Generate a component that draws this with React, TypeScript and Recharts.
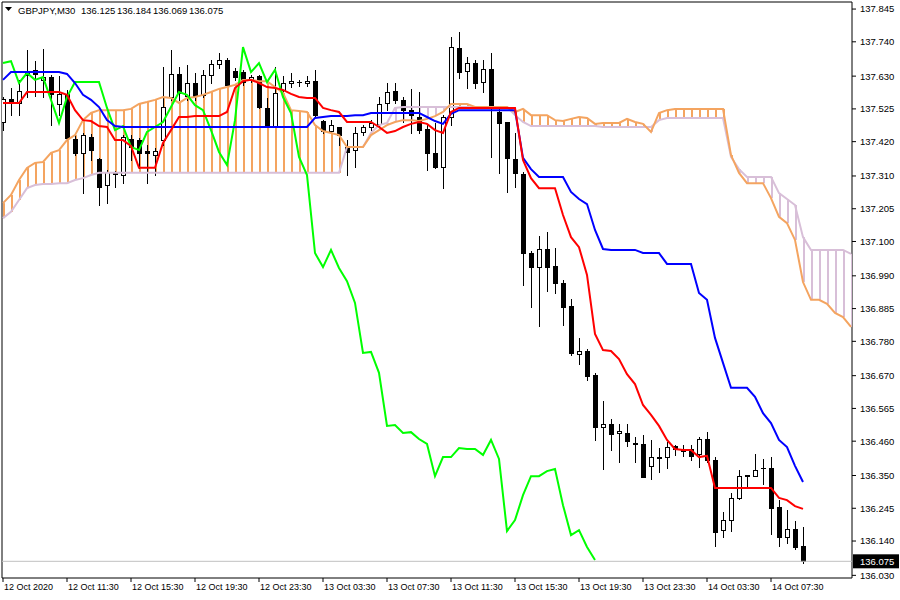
import React from 'react';
import { ComposedChart, Line, Bar, XAxis, YAxis, ReferenceLine, ReferenceArea } from 'recharts';

const openP = [137.483,137.557,137.544,137.646,137.650,137.618,137.627,137.541,137.573,137.429,
137.384,137.435,137.364,137.281,137.320,137.313,137.429,137.425,137.390,137.377,
137.425,137.563,137.637,137.566,137.608,137.570,137.634,137.669,137.682,137.646,
137.643,137.618,137.630,137.528,137.467,137.586,137.608,137.611,137.608,137.614,
137.486,137.454,137.467,137.403,137.393,137.451,137.467,137.477,137.544,137.582,
137.554,137.521,137.499,137.461,137.384,137.339,137.499,137.720,137.646,137.672,
137.611,137.653,137.515,137.483,137.364,137.316,137.063,137.018,137.076,137.021,
136.967,136.893,136.739,136.749,136.672,136.505,136.515,136.486,136.486,136.454,
136.451,136.381,136.406,136.409,136.445,136.435,136.435,136.419,136.467,136.400,
136.175,136.207,136.278,136.348,136.348,136.374,136.374,136.249,136.153,136.179,
136.125];
const highP = [137.563,137.592,137.618,137.714,137.678,137.717,137.634,137.630,137.586,137.448,
137.448,137.445,137.368,137.329,137.326,137.441,137.441,137.432,137.409,137.400,
137.659,137.714,137.659,137.666,137.640,137.650,137.682,137.704,137.688,137.656,
137.650,137.634,137.634,137.560,137.659,137.630,137.640,137.618,137.630,137.650,
137.489,137.489,137.467,137.425,137.467,137.473,137.489,137.563,137.608,137.608,
137.563,137.589,137.579,137.473,137.480,137.505,137.755,137.771,137.691,137.682,
137.682,137.704,137.531,137.483,137.448,137.323,137.070,137.118,137.130,137.079,
136.977,136.916,136.791,136.755,136.679,136.589,136.531,136.515,136.515,136.473,
136.480,136.464,136.438,136.457,136.448,136.448,136.448,136.473,136.489,136.409,
136.233,136.294,136.368,136.352,136.419,136.403,136.409,136.271,136.239,136.204,
136.184];
const lowP = [137.457,137.505,137.505,137.563,137.566,137.563,137.473,137.505,137.425,137.377,
137.255,137.361,137.217,137.223,137.275,137.287,137.361,137.336,137.287,137.313,
137.409,137.554,137.554,137.554,137.554,137.563,137.608,137.656,137.598,137.618,
137.602,137.611,137.528,137.470,137.467,137.563,137.595,137.598,137.598,137.502,
137.448,137.448,137.409,137.313,137.339,137.441,137.457,137.467,137.521,137.544,
137.483,137.448,137.448,137.329,137.336,137.271,137.473,137.624,137.592,137.592,
137.579,137.371,137.320,137.259,137.275,136.961,136.890,136.829,136.941,136.935,
136.832,136.736,136.707,136.656,136.464,136.371,136.432,136.393,136.445,136.393,
136.345,136.339,136.361,136.374,136.416,136.413,136.400,136.377,136.393,136.124,
136.153,136.172,136.275,136.310,136.348,136.323,136.163,136.124,136.134,136.114,
136.069];
const closeP = [137.557,137.547,137.582,137.634,137.637,137.627,137.573,137.573,137.432,137.384,
137.441,137.393,137.275,137.323,137.316,137.435,137.403,137.384,137.384,137.390,
137.531,137.637,137.576,137.608,137.566,137.634,137.669,137.682,137.602,137.627,
137.611,137.627,137.531,137.473,137.576,137.608,137.614,137.612,137.614,137.505,
137.454,137.473,137.441,137.387,137.448,137.467,137.480,137.541,137.579,137.554,
137.521,137.505,137.457,137.384,137.339,137.499,137.723,137.643,137.672,137.608,
137.653,137.534,137.480,137.368,137.320,137.063,137.018,137.076,137.018,136.967,
136.890,136.743,136.749,136.669,136.505,136.515,136.483,136.493,136.461,136.451,
136.345,136.409,136.409,136.441,136.435,136.429,136.413,136.467,136.400,136.169,
136.207,136.278,136.348,136.352,136.368,136.375,136.246,136.153,136.179,136.121,
136.075];

const tenkanSen = [137.544,137.544,137.544,137.579,137.579,137.579,137.579,137.579,137.570,137.521,
137.489,137.486,137.470,137.467,137.425,137.425,137.406,137.336,137.336,137.336,
137.416,137.457,137.499,137.499,137.502,137.502,137.502,137.502,137.515,137.592,
137.614,137.618,137.608,137.595,137.592,137.586,137.573,137.563,137.560,137.560,
137.528,137.521,137.515,137.483,137.483,137.483,137.483,137.467,137.448,137.454,
137.467,137.477,137.483,137.477,137.457,137.448,137.515,137.528,137.528,137.528,
137.528,137.528,137.528,137.528,137.528,137.361,137.303,137.271,137.271,137.271,
137.185,137.114,137.082,136.993,136.804,136.752,136.749,136.723,136.675,136.643,
136.576,136.544,136.509,136.464,136.435,136.432,136.432,136.409,136.413,136.310,
136.310,136.310,136.310,136.310,136.310,136.310,136.310,136.278,136.271,136.252,
136.243];
const kijunSen = [137.618,137.643,137.643,137.643,137.643,137.643,137.643,137.643,137.637,137.608,
137.570,137.554,137.531,137.489,137.470,137.467,137.467,137.467,137.467,137.467,
137.467,137.467,137.467,137.467,137.467,137.467,137.467,137.467,137.467,137.467,
137.467,137.467,137.467,137.467,137.467,137.467,137.467,137.467,137.467,137.496,
137.499,137.502,137.502,137.502,137.505,137.505,137.512,137.512,137.512,137.512,
137.512,137.512,137.512,137.499,137.486,137.477,137.509,137.521,137.521,137.521,
137.521,137.521,137.521,137.521,137.521,137.368,137.332,137.307,137.307,137.307,
137.307,137.259,137.236,137.220,137.137,137.076,137.073,137.073,137.073,137.073,
137.063,137.063,137.063,137.028,137.028,137.028,137.028,136.935,136.913,136.791,
136.711,136.631,136.631,136.631,136.602,136.550,136.518,136.464,136.441,136.381,
136.329];
const chikouSpan = [137.672,137.678,137.608,137.640,137.618,137.627,137.554,137.480,137.563,137.611,
137.611,137.611,137.611,137.528,137.457,137.470,137.403,137.393,137.451,137.467,
137.483,137.531,137.579,137.570,137.537,137.521,137.457,137.387,137.345,137.489,
137.723,137.643,137.672,137.611,137.650,137.563,137.512,137.371,137.313,137.063,
137.018,137.073,137.015,136.973,136.903,136.743,136.746,136.679,136.509,136.512,
136.486,136.489,136.467,136.451,136.348,136.409,136.409,136.438,136.435,136.435,
136.416,136.464,136.403,136.172,136.207,136.287,136.348,136.348,136.364,136.371,
136.255,136.159,136.175,136.121,136.079];
const senkouA = [137.223,137.249,137.297,137.336,137.352,137.355,137.384,137.393,137.425,137.441,
137.489,137.512,137.521,137.521,137.521,137.521,137.525,137.541,137.547,137.554,
137.563,137.560,137.544,137.560,137.563,137.570,137.579,137.589,137.595,137.602,
137.618,137.618,137.614,137.614,137.595,137.576,137.521,137.518,137.515,137.473,
137.454,137.448,137.441,137.403,137.403,137.403,137.441,137.457,137.473,137.483,
137.489,137.489,137.486,137.493,137.502,137.515,137.541,137.541,137.541,137.531,
137.531,137.531,137.531,137.531,137.515,137.525,137.505,137.505,137.505,137.489,
137.486,137.493,137.499,137.496,137.477,137.480,137.480,137.480,137.493,137.483,
137.477,137.451,137.512,137.521,137.525,137.525,137.525,137.525,137.525,137.525,
137.525,137.377,137.320,137.287,137.287,137.287,137.239,137.179,137.159,137.105,
136.970,136.913,136.913,136.900,136.871,136.858,136.826];
const senkouB = [137.175,137.195,137.233,137.271,137.281,137.284,137.284,137.287,137.287,137.297,
137.303,137.313,137.320,137.320,137.320,137.320,137.320,137.320,137.320,137.320,
137.320,137.320,137.320,137.320,137.320,137.320,137.320,137.320,137.320,137.320,
137.320,137.320,137.320,137.320,137.320,137.320,137.320,137.320,137.320,137.320,
137.320,137.320,137.320,137.403,137.403,137.403,137.448,137.473,137.480,137.528,
137.531,137.531,137.531,137.531,137.531,137.531,137.531,137.531,137.531,137.531,
137.531,137.531,137.531,137.531,137.505,137.483,137.470,137.470,137.470,137.470,
137.470,137.470,137.470,137.470,137.470,137.467,137.467,137.467,137.467,137.467,
137.467,137.467,137.489,137.496,137.496,137.496,137.496,137.496,137.496,137.496,
137.496,137.371,137.332,137.307,137.307,137.307,137.307,137.255,137.236,137.217,
137.114,137.073,137.073,137.073,137.073,137.073,137.060];

const timeLabels = ['12 Oct 2020','12 Oct 11:30','12 Oct 15:30','12 Oct 19:30','12 Oct 23:30','13 Oct 03:30','13 Oct 07:30','13 Oct 11:30','13 Oct 15:30','13 Oct 19:30','13 Oct 23:30','14 Oct 03:30','14 Oct 07:30'];
const timeTickBars = [0,8,16,24,32,40,48,56,64,72,80,88,96];
const priceTicks = [137.845,137.740,137.630,137.525,137.420,137.310,137.205,137.100,136.990,136.885,136.780,136.670,136.565,136.460,136.350,136.245,136.140,136.030];
const symbolTitle = 'GBPJPY,M30';
const ohlcTitle = ['136.125','136.184','136.069','136.075'];
const lastPrice = 136.075;

const Y_MIN = 136.0215;
const Y_MAX = 137.8676;
const X_MIN = -0.125;
const X_MAX = 106.125;
const FONT = '"Liberation Sans", Arial, sans-serif';

const data = senkouA.map((a, i) => ({
  i,
  o: i < openP.length ? openP[i] : null,
  h: i < highP.length ? highP[i] : null,
  l: i < lowP.length ? lowP[i] : null,
  c: i < closeP.length ? closeP[i] : null,
  tenkan: i < tenkanSen.length ? tenkanSen[i] : null,
  kijun: i < kijunSen.length ? kijunSen[i] : null,
  chikou: i < chikouSpan.length ? chikouSpan[i] : null,
  a,
  b: senkouB[i],
}));

const CandleShape = (props: any) => {
  const { x, y, width, height, payload } = props;
  if (!payload || payload.o == null || y == null || isNaN(y) || isNaN(height)) return <g />;
  const top = Math.min(y, y + height);
  const span = Math.abs(height);
  const range = payload.h - payload.l;
  const k = range > 0 ? span / range : 0;
  const cx = Math.round(x + width / 2);
  const yOf = (p: number) => top + (payload.h - p) * k;
  const hiY = Math.round(top);
  const loY = Math.round(top + span);
  const bTop = Math.round(yOf(Math.max(payload.o, payload.c)));
  const bBot = Math.round(yOf(Math.min(payload.o, payload.c)));
  const bull = payload.c > payload.o;
  return (
    <g>
      <rect x={cx} y={hiY} width={1} height={Math.max(loY - hiY + 1, 1)} fill="#000" />
      {bull && bBot - bTop >= 2 ? (
        <rect x={cx - 1.5} y={bTop + 0.5} width={4} height={bBot - bTop} fill="#fff" stroke="#000" strokeWidth={1} />
      ) : (
        <rect x={cx - 2} y={bTop} width={5} height={Math.max(bBot - bTop + 1, 1)} fill="#000" />
      )}
    </g>
  );
};

const HatchShape = (props: any) => {
  const { x, y, width, height, payload } = props;
  if (!payload || y == null || isNaN(y) || isNaN(height)) return <g />;
  const top = Math.min(y, y + height);
  const span = Math.abs(height);
  if (span < 0.5) return <g />;
  const cx = Math.round(x + width / 2);
  const color = payload.a >= payload.b ? '#F4A460' : '#D8BFD8';
  return <rect x={cx} y={top} width={2} height={span} fill={color} />;
};

const XTick = (props: any) => {
  const { x, y, payload } = props;
  const idx = timeTickBars.indexOf(payload.value);
  return (
    <text x={x + 1} y={y} dy="0.71em" fontSize={9} fontFamily={FONT} fill="#000" textAnchor="start">
      {idx >= 0 ? timeLabels[idx] : ''}
    </text>
  );
};

const YTick = (props: any) => {
  const { x, y, payload } = props;
  return (
    <text x={x} y={y} dy="0.355em" fontSize={9.5} fontFamily={FONT} fill="#000" textAnchor="start">
      {Number(payload.value).toFixed(3)}
    </text>
  );
};

const PriceTag = (props: any) => {
  const vb = props.viewBox || {};
  const vx = (vb.x || 0) + (vb.width || 0);
  const vy = vb.y || 0;
  return (
    <g>
      <rect x={vx + 1} y={vy - 7} width={46} height={14} fill="#000" />
      <text x={vx + 8} y={vy} dy="0.355em" fontSize={9.5} fontFamily={FONT} fill="#fff">
        {lastPrice.toFixed(3)}
      </text>
    </g>
  );
};

export default function App() {
  return (
    <div style={{ position: 'absolute', left: 0, top: 0, width: 900, height: 600, background: '#fff' }}>
      <ComposedChart width={900} height={600} data={data} margin={{ top: 2, right: 0, bottom: 0, left: 2 }}>
        <XAxis
          xAxisId="x"
          dataKey="i"
          type="number"
          domain={[X_MIN, X_MAX]}
          allowDataOverflow
          ticks={timeTickBars}
          interval={0}
          height={22}
          axisLine={false}
          tickLine={{ stroke: '#000' }}
          tickSize={4}
          tickMargin={2}
          tick={<XTick />}
        />
        <XAxis xAxisId="x2" dataKey="i" type="number" domain={[X_MIN, X_MAX]} allowDataOverflow ticks={timeTickBars} hide />
        <YAxis
          orientation="right"
          type="number"
          domain={[Y_MIN, Y_MAX]}
          allowDataOverflow
          ticks={priceTicks}
          interval={0}
          width={48}
          axisLine={false}
          tickLine={{ stroke: '#000' }}
          tickSize={4}
          tickMargin={4}
          tick={<YTick />}
        />
        <Bar
          xAxisId="x2"
          dataKey={(d: any) => [Math.min(d.a, d.b), Math.max(d.a, d.b)]}
          barSize={2}
          shape={<HatchShape />}
          isAnimationActive={false}
        />
        <Line xAxisId="x" type="linear" dataKey="b" stroke="#D8BFD8" strokeWidth={2} dot={false} isAnimationActive={false} />
        <Line xAxisId="x" type="linear" dataKey="a" stroke="#F4A460" strokeWidth={2} dot={false} isAnimationActive={false} />
        <ReferenceLine xAxisId="x" y={lastPrice} stroke="#C0C0C0" strokeWidth={1} label={<PriceTag />} />
        <Bar
          xAxisId="x"
          dataKey={(d: any) => (d.o == null ? null : [d.l, d.h])}
          barSize={5}
          shape={<CandleShape />}
          isAnimationActive={false}
        />
        <Line xAxisId="x" type="linear" dataKey="chikou" stroke="#00FF00" strokeWidth={2} dot={false} isAnimationActive={false} />
        <Line xAxisId="x" type="linear" dataKey="kijun" stroke="#0000FF" strokeWidth={2} dot={false} isAnimationActive={false} />
        <Line xAxisId="x" type="linear" dataKey="tenkan" stroke="#FF0000" strokeWidth={2} dot={false} isAnimationActive={false} />
        <ReferenceArea xAxisId="x" x1={X_MIN} x2={X_MAX} y1={Y_MIN} y2={Y_MAX} fill="none" stroke="#000" strokeWidth={1} fillOpacity={0} ifOverflow="visible" />
      </ComposedChart>
      <svg width={300} height={20} style={{ position: 'absolute', left: 0, top: 0, pointerEvents: 'none' }}>
        <polygon points="5,7 12,7 8.5,11" fill="#000" />
        <text x={18} y={14} fontSize={9.5} fontFamily={FONT} fill="#000">{symbolTitle}</text>
        {ohlcTitle.map((t, k) => (
          <text key={k} x={81 + k * 36} y={14} fontSize={9.5} fontFamily={FONT} fill="#000">{t}</text>
        ))}
      </svg>
    </div>
  );
}
